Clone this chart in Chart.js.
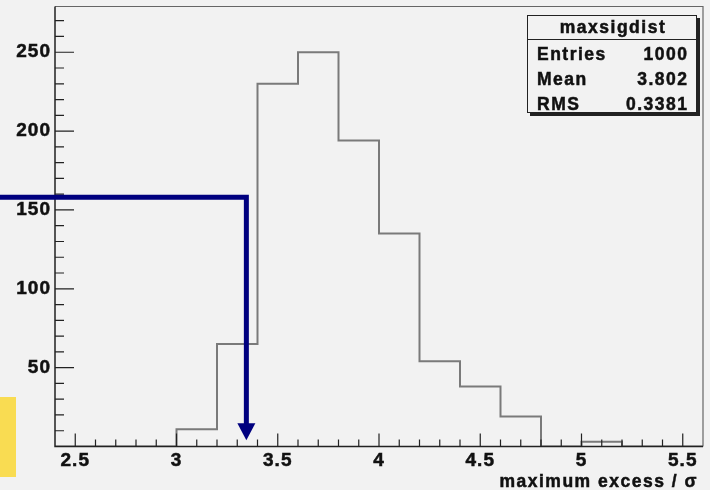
<!DOCTYPE html>
<html><head><meta charset="utf-8">
<script src="https://cdn.jsdelivr.net/npm/chart.js@4.4.0/dist/chart.umd.min.js"></script>
<style>html,body{margin:0;padding:0;background:#f2f2f2;overflow:hidden}canvas{display:block}</style>
</head><body>
<canvas id="c" width="710" height="490"></canvas>
<script>
// ---- data ----
const binLowEdges = [2.4, 2.6, 2.8, 3.0, 3.2, 3.4, 3.6, 3.8, 4.0, 4.2, 4.4, 4.6, 4.8, 5.0, 5.2, 5.4];
const binUpperEdge = 5.6;
const binCounts = [0, 0, 0, 11, 65, 230, 250, 194, 135, 54, 38, 19, 0, 3, 0, 0];
const xMajorLabels = [2.5, 3, 3.5, 4, 4.5, 5, 5.5];
const yMajorLabels = [50, 100, 150, 200, 250];
const histName = 'maxsigdist';
const statNames = ['Entries', 'Mean', 'RMS'];
const statValues = ['1000', '3.802', '0.3381'];
const xTitle = 'maximum excess / σ';
const cutX = 3.345;      // vertical arrow position
const cutY = 158;        // horizontal line level
const arrowTipY = 4;     // arrow tip level

// ---- build step points ----
const stepPoints = binLowEdges.map((x, i) => ({ x: x, y: binCounts[i] }));
stepPoints.push({ x: binUpperEdge, y: 0 });

const FONT = "'Liberation Sans', Arial, sans-serif";
const near = (v, list) => list.some(m => Math.abs(v - m) < 1e-6);

function boldText(ctx, s, x, y) {
  ctx.fillText(s, x, y);
  ctx.strokeText(s, x, y);
}

const rootPlugin = {
  id: 'rootDecor',
  beforeDraw(chart) {
    chart.ctx.letterSpacing = '1px';
  },
  afterDraw(chart) {
    const ctx = chart.ctx;
    const ca = chart.chartArea;
    const xs = chart.scales.x, ys = chart.scales.y;
    ctx.save();
    // frame (top/right lighter)
    ctx.strokeStyle = '#666';
    ctx.lineWidth = 1.2;
    ctx.beginPath();
    ctx.moveTo(ca.left, ca.top); ctx.lineTo(ca.right, ca.top); ctx.lineTo(ca.right, ca.bottom);
    ctx.stroke();
    // axes
    ctx.strokeStyle = '#222';
    ctx.lineWidth = 1.5;
    ctx.beginPath();
    ctx.moveTo(ca.left, ca.top); ctx.lineTo(ca.left, ca.bottom); ctx.lineTo(ca.right, ca.bottom);
    ctx.stroke();
    // inward ticks
    ctx.lineWidth = 1.2;
    ctx.strokeStyle = '#222';
    ctx.beginPath();
    ys.ticks.forEach(t => {
      if (t.value <= 0) return;
      const p = ys.getPixelForValue(t.value);
      const len = t.value % 50 === 0 ? 19 : 9;
      ctx.moveTo(ca.left, p); ctx.lineTo(ca.left + len, p);
    });
    xs.ticks.forEach(t => {
      const p = xs.getPixelForValue(t.value);
      if (p <= ca.left + 0.5 || p >= ca.right - 0.5) return;
      const len = near(t.value, xMajorLabels) ? 13 : 7;
      ctx.moveTo(p, ca.bottom); ctx.lineTo(p, ca.bottom - len);
    });
    ctx.stroke();

    // x axis title
    ctx.letterSpacing = '1.5px';
    ctx.fillStyle = '#111';
    ctx.strokeStyle = '#111';
    ctx.lineWidth = 0.5;
    ctx.font = 'bold 17.5px ' + FONT;
    ctx.textAlign = 'right';
    ctx.textBaseline = 'alphabetic';
    boldText(ctx, xTitle, 698, 487);

    // stats box
    const bx = 527, by = 15, bw = 170, bh = 98;
    ctx.fillStyle = '#222';
    ctx.fillRect(bx + 3, by + 3, bw, bh);
    ctx.fillStyle = '#f2f2f2';
    ctx.fillRect(bx, by, bw, bh);
    ctx.strokeStyle = '#222';
    ctx.lineWidth = 1;
    ctx.strokeRect(bx + 0.5, by + 0.5, bw - 1, bh - 1);
    ctx.beginPath();
    ctx.moveTo(bx, by + 24.5); ctx.lineTo(bx + bw, by + 24.5);
    ctx.stroke();
    ctx.fillStyle = '#111';
    ctx.strokeStyle = '#111';
    ctx.lineWidth = 0.5;
    ctx.textAlign = 'center';
    boldText(ctx, histName, bx + bw / 2 + 1, by + 18);
    statNames.forEach((n, i) => {
      const yb = by + 44.5 + i * 25;
      ctx.textAlign = 'left';
      boldText(ctx, n, bx + 10, yb);
      ctx.textAlign = 'right';
      boldText(ctx, statValues[i], bx + bw - 8.5, yb);
    });

    // blue cut line and arrow
    const ax = xs.getPixelForValue(cutX);
    const ay = ys.getPixelForValue(cutY);
    const tipY = ys.getPixelForValue(arrowTipY);
    ctx.strokeStyle = '#00007f';
    ctx.fillStyle = '#00007f';
    ctx.lineWidth = 5;
    ctx.lineJoin = 'miter';
    ctx.beginPath();
    ctx.moveTo(0, ay); ctx.lineTo(ax, ay); ctx.lineTo(ax, tipY - 14);
    ctx.stroke();
    ctx.beginPath();
    ctx.moveTo(ax - 9, tipY - 17); ctx.lineTo(ax + 9, tipY - 17); ctx.lineTo(ax, tipY);
    ctx.closePath();
    ctx.fill();

    // yellow marker
    ctx.fillStyle = '#f9dc52';
    ctx.fillRect(0, 397, 16, 80);
    ctx.restore();
  }
};

const tickFont = { family: FONT, weight: 'bold', size: 19 };

new Chart(document.getElementById('c'), {
  type: 'line',
  data: {
    datasets: [{
      data: stepPoints,
      stepped: 'before',
      borderColor: '#7a7a7a',
      borderWidth: 2,
      pointRadius: 0,
      fill: false
    }]
  },
  options: {
    responsive: false,
    animation: false,
    devicePixelRatio: 1,
    layout: { padding: { top: 6.5, right: 7, left: 0, bottom: 0 } },
    plugins: { legend: { display: false }, tooltip: { enabled: false } },
    scales: {
      x: {
        type: 'linear', min: 2.4, max: 5.6,
        grid: { display: false, drawTicks: false },
        border: { display: false },
        afterFit(s) { s.height = 43.5; s.paddingLeft = 0; s.paddingRight = 0; },
        ticks: {
          stepSize: 0.1, autoSkip: false, maxRotation: 0, includeBounds: false, padding: 3,
          color: '#111', textStrokeColor: '#111', textStrokeWidth: 0.5, font: tickFont,
          callback: v => near(v, xMajorLabels) ? String(+v.toFixed(1)) : ''
        }
      },
      y: {
        type: 'linear', min: 0, max: 279,
        grid: { display: false, drawTicks: false },
        border: { display: false },
        afterFit(s) { s.width = 55; s.paddingTop = 0; s.paddingBottom = 0; },
        ticks: {
          stepSize: 10, autoSkip: false, includeBounds: false, padding: 4,
          color: '#111', textStrokeColor: '#111', textStrokeWidth: 0.5, font: tickFont,
          callback: v => near(v, yMajorLabels) ? String(v) : ''
        }
      }
    }
  },
  plugins: [rootPlugin]
});
</script>
</body></html>
